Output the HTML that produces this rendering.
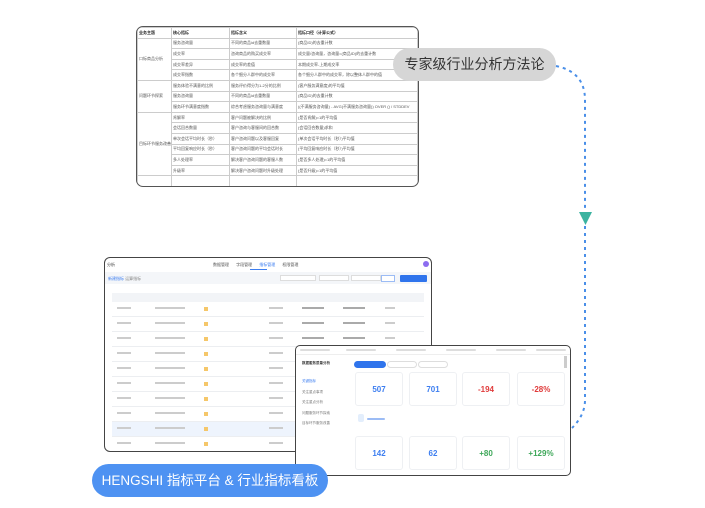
<!DOCTYPE html>
<html><head><meta charset="utf-8"><style>
*{margin:0;padding:0;box-sizing:border-box}
body{width:705px;height:508px;background:#fff;position:relative;overflow:hidden;font-family:"Liberation Sans","Noto Sans CJK SC",sans-serif}
.a{position:absolute}
table{border-collapse:collapse;font-size:4px;color:#555}
td{border:1px solid #ccc;padding:0 1px;height:10.6px;white-space:nowrap;overflow:hidden}
.g{background:#ddd;height:3px;border-radius:1px;position:absolute}
.card{position:absolute;background:#fff;border:1px solid #eef0f3;border-radius:3px;text-align:center;font-weight:bold;font-size:8px}
.r{position:absolute;left:7px;width:312px;height:15px;border-bottom:1px solid #eceef1}
.r i{position:absolute;background:#ccc;height:2px;top:5px}
.r b{position:absolute;background:#f5c76a;width:4px;height:4px;top:5px;left:92px}
</style></head><body>

<div class="a" style="left:136px;top:26px;width:283px;height:161px;border:1.5px solid #555;border-radius:7px;overflow:hidden;background:#fff">
<table style="width:100%;table-layout:fixed">
<colgroup><col style="width:34px"><col style="width:58px"><col style="width:67px"><col></colgroup>
<tr style="font-weight:bold;color:#222"><td>业务主题</td><td>核心指标</td><td>指标含义</td><td>指标口径（计算公式）</td></tr>
<tr><td rowspan="4">口标商品分析</td><td>服务咨询量</td><td>不同的商品id去重数量</td><td>(商品ID)的去重计数</td></tr>
<tr><td>成交率</td><td>咨询商品的购买成交率</td><td>成交量/咨询量，咨询量=(商品ID)的去重计数</td></tr>
<tr><td>成交率差异</td><td>成交率的差值</td><td>本期成交率-上期成交率</td></tr>
<tr><td>成交率指数</td><td>各个细分人群中的成交率</td><td>各个细分人群中的成交率，除以整体人群中的值</td></tr>
<tr><td rowspan="3">问题环节探索</td><td>服务体验不满意的比例</td><td>服务评价得分为1-2分的比例</td><td>(客户服务满意度)的平均值</td></tr>
<tr><td>服务咨询量</td><td>不同的商品id去重数量</td><td>(商品ID)的去重计数</td></tr>
<tr><td>服务环节满意度指数</td><td>综合考虑服务咨询量与满意度</td><td>((不满服务咨询量) - AVG(不满服务咨询量)) OVER () / STDDEV</td></tr>
<tr><td rowspan="6">目标环节服务改善</td><td>肯解率</td><td>客户问题被解决的比例</td><td>(是否肯解)=1的平均值</td></tr>
<tr><td>会话回合数量</td><td>客户咨询与客服间的回合数</td><td>(会话回合数量)求和</td></tr>
<tr><td>单次会话平均时长（秒）</td><td>客户咨询问题以及客服回复</td><td>(单次会话平均时长（秒）)平均值</td></tr>
<tr><td>平均回复响应时长（秒）</td><td>客户咨询问题的平均会话时长</td><td>(平均回复响应时长（秒）)平均值</td></tr>
<tr><td>多人处理率</td><td>解决客户咨询问题的客服人数</td><td>(是否多人处理)=1的平均值</td></tr>
<tr><td>升级率</td><td>解决客户咨询问题时升级处理</td><td>(是否升级)=1的平均值</td></tr>
<tr><td></td><td></td><td></td><td></td></tr>
</table>
</div>

<div class="a" style="left:393px;top:48px;width:163px;height:33px;background:#d6d6d6;border-radius:17px;font-size:14px;color:#333;text-align:center;line-height:33px;white-space:nowrap">专家级行业分析方法论</div>

<svg class="a" style="left:0;top:0" width="705" height="508">
<path d="M556 66 Q585 72 585 100 L585 210" fill="none" stroke="#4a8fe8" stroke-width="2" stroke-dasharray="3 4"/>
<polygon points="579,212 592,212 585.5,225" fill="#3bb3a0"/>
<path d="M585 226 L585 400 Q585 415 572 428" fill="none" stroke="#4a8fe8" stroke-width="2" stroke-dasharray="3 4"/>
</svg>

<div class="a" style="left:104px;top:257px;width:328px;height:195px;border:1.5px solid #444;border-radius:6px;background:#fff;overflow:hidden">
 <div class="a" style="left:2px;top:4px;font-size:4px;color:#333">分析</div>
 <div class="a" style="left:108px;top:4px;font-size:4px;color:#555;word-spacing:6px">数据管理 字段管理 <span style="color:#3d7ef0">指标管理</span> 权限管理</div>
 <div class="a" style="left:145px;top:11px;width:17px;height:1px;background:#3d7ef0"></div>
 <div class="a" style="left:318px;top:3px;width:6px;height:6px;border-radius:50%;background:#8c6cf0"></div>
 <div class="a" style="left:0;top:14px;width:328px;height:12px;background:#f4f6f9"></div>
 <div class="a" style="left:3px;top:18px;font-size:4px;color:#3d7ef0">新建指标 <span style="color:#888">运算指标</span></div>
 <div class="a" style="left:175px;top:17px;width:36px;height:6px;border:1px solid #ddd;background:#fff"></div>
 <div class="a" style="left:214px;top:17px;width:30px;height:6px;border:1px solid #ddd;background:#fff"></div>
 <div class="a" style="left:246px;top:17px;width:30px;height:6px;border:1px solid #ddd;background:#fff"></div>
 <div class="a" style="left:276px;top:17px;width:14px;height:7px;border:1px solid #9cbcf5;background:#fff"></div>
 <div class="a" style="left:295px;top:17px;width:27px;height:7px;background:#2f74ec;border-radius:1px"></div>
 <div class="a" style="left:7px;top:35px;width:312px;height:9px;background:#f2f4f7"></div>
 <div class="r" style="top:44px"><i style="left:5px;width:14px"></i><i style="left:43px;width:30px"></i><b></b><i style="left:157px;width:14px"></i><i style="left:190px;width:22px;background:#aaa"></i><i style="left:231px;width:22px;background:#aaa"></i><i style="left:273px;width:10px"></i></div>
 <div class="r" style="top:59px"><i style="left:5px;width:14px"></i><i style="left:43px;width:30px"></i><b></b><i style="left:157px;width:14px"></i><i style="left:190px;width:22px;background:#aaa"></i><i style="left:231px;width:22px;background:#aaa"></i><i style="left:273px;width:10px"></i></div>
 <div class="r" style="top:74px"><i style="left:5px;width:14px"></i><i style="left:43px;width:30px"></i><b></b><i style="left:157px;width:14px"></i><i style="left:190px;width:22px;background:#aaa"></i><i style="left:231px;width:22px;background:#aaa"></i><i style="left:273px;width:10px"></i></div>
 <div class="r" style="top:89px"><i style="left:5px;width:14px"></i><i style="left:43px;width:30px"></i><b></b><i style="left:157px;width:14px"></i><i style="left:190px;width:22px;background:#aaa"></i></div>
 <div class="r" style="top:104px"><i style="left:5px;width:14px"></i><i style="left:43px;width:30px"></i><b></b><i style="left:157px;width:14px"></i><i style="left:190px;width:22px;background:#aaa"></i></div>
 <div class="r" style="top:119px"><i style="left:5px;width:14px"></i><i style="left:43px;width:30px"></i><b></b><i style="left:157px;width:14px"></i><i style="left:190px;width:22px;background:#aaa"></i></div>
 <div class="r" style="top:134px"><i style="left:5px;width:14px"></i><i style="left:43px;width:30px"></i><b></b><i style="left:157px;width:14px"></i><i style="left:190px;width:22px;background:#aaa"></i></div>
 <div class="r" style="top:149px"><i style="left:5px;width:14px"></i><i style="left:43px;width:30px"></i><b></b><i style="left:157px;width:14px"></i><i style="left:190px;width:22px;background:#aaa"></i></div>
 <div class="r" style="top:164px;background:#eef4fd"><i style="left:5px;width:14px"></i><i style="left:43px;width:30px"></i><b></b><i style="left:157px;width:14px"></i><i style="left:190px;width:22px;background:#aaa"></i></div>
 <div class="r" style="top:179px"><i style="left:5px;width:14px"></i><i style="left:43px;width:30px"></i><b></b><i style="left:157px;width:14px"></i></div>
</div>

<div class="a" style="left:295px;top:345px;width:276px;height:131px;border:1.5px solid #444;border-radius:5px;background:#fff;overflow:hidden">
 <div class="a" style="left:0;top:0;width:276px;height:9px;border-bottom:1px solid #eee"></div>
 <div class="g" style="left:4px;top:3px;width:30px;height:2px"></div><div class="g" style="left:50px;top:3px;width:30px;height:2px"></div>
 <div class="g" style="left:100px;top:3px;width:30px;height:2px"></div><div class="g" style="left:150px;top:3px;width:30px;height:2px"></div>
 <div class="g" style="left:200px;top:3px;width:30px;height:2px"></div><div class="g" style="left:240px;top:3px;width:30px;height:2px"></div>
 <div class="a" style="left:268px;top:10px;width:3px;height:12px;background:#ccc"></div>
 <div class="a" style="left:6px;top:15px;font-size:3.5px;color:#333;font-weight:bold">数据服务质量分析</div>
 <div class="a" style="left:6px;top:30px;font-size:3.5px;color:#3d7ef0;line-height:10.6px">关键指标<br><span style="color:#777">关注重点事项<br>关注重点分析<br>问题服务环节探索<br>目标环节服务改善</span></div>
 <div class="a" style="left:58px;top:15px;width:32px;height:7px;background:#2f74ec;border-radius:4px"></div>
 <div class="a" style="left:91px;top:15px;width:30px;height:7px;border:1px solid #ddd;border-radius:4px"></div>
 <div class="a" style="left:122px;top:15px;width:30px;height:7px;border:1px solid #ddd;border-radius:4px"></div>
 <div class="card" style="left:59px;top:26px;width:48px;height:34px;color:#3d7ef0;padding-top:12px">507</div>
 <div class="card" style="left:113px;top:26px;width:48px;height:34px;color:#3d7ef0;padding-top:12px">701</div>
 <div class="card" style="left:166px;top:26px;width:48px;height:34px;color:#e03b3b;padding-top:12px">-194</div>
 <div class="card" style="left:221px;top:26px;width:48px;height:34px;color:#e03b3b;padding-top:12px">-28%</div>
 <div class="a" style="left:62px;top:68px;width:6px;height:8px;background:#e3eefc;border-radius:2px"></div>
 <div class="g" style="left:71px;top:72px;width:18px;height:2px;background:#9cbcf5"></div>
 <div class="card" style="left:59px;top:90px;width:48px;height:34px;color:#3d7ef0;padding-top:12px">142</div>
 <div class="card" style="left:113px;top:90px;width:48px;height:34px;color:#3d7ef0;padding-top:12px">62</div>
 <div class="card" style="left:166px;top:90px;width:48px;height:34px;color:#3fa85a;padding-top:12px">+80</div>
 <div class="card" style="left:221px;top:90px;width:48px;height:34px;color:#3fa85a;padding-top:12px">+129%</div>
</div>

<div class="a" style="left:92px;top:464px;width:236px;height:33px;background:#4e92f2;border-radius:17px;color:#fff;font-size:13.5px;text-align:center;line-height:33px;white-space:nowrap">HENGSHI 指标平台 &amp; 行业指标看板</div>
</body></html>
